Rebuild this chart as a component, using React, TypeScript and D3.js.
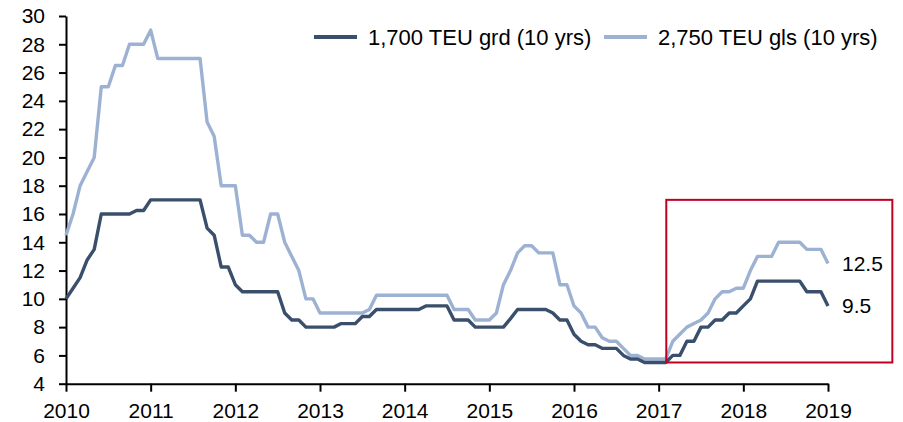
import React, { useEffect, useRef } from 'react';
import * as d3 from 'd3';

// monthly values, Jan 2010 .. Jan 2019
const startYear = 2010;

const grd1700 = [
  10, 10.75, 11.5, 12.75, 13.5, 16, 16, 16, 16, 16, 16.25, 16.25,
  17, 17, 17, 17, 17, 17, 17, 17, 15, 14.5, 12.25, 12.25,
  11, 10.5, 10.5, 10.5, 10.5, 10.5, 10.5, 9, 8.5, 8.5, 8, 8,
  8, 8, 8, 8.25, 8.25, 8.25, 8.75, 8.75, 9.25, 9.25, 9.25, 9.25,
  9.25, 9.25, 9.25, 9.5, 9.5, 9.5, 9.5, 8.5, 8.5, 8.5, 8, 8,
  8, 8, 8, 8.6, 9.25, 9.25, 9.25, 9.25, 9.25, 9, 8.5, 8.5,
  7.5, 7, 6.75, 6.75, 6.5, 6.5, 6.5, 6, 5.75, 5.75, 5.5, 5.5,
  5.5, 5.5, 6, 6, 7, 7, 8, 8, 8.5, 8.5, 9, 9,
  9.5, 10, 11.25, 11.25, 11.25, 11.25, 11.25, 11.25, 11.25, 10.5, 10.5, 10.5,
  9.5,
];

const gls2750 = [
  14.5, 16, 18, 19, 20, 25, 25, 26.5, 26.5, 28, 28, 28,
  29, 27, 27, 27, 27, 27, 27, 27, 22.5, 21.5, 18, 18,
  18, 14.5, 14.5, 14, 14, 16, 16, 14, 13, 12, 10, 10,
  9, 9, 9, 9, 9, 9, 9, 9.25, 10.25, 10.25, 10.25, 10.25,
  10.25, 10.25, 10.25, 10.25, 10.25, 10.25, 10.25, 9.25, 9.25, 9.25, 8.5, 8.5,
  8.5, 9, 11, 12, 13.25, 13.75, 13.75, 13.25, 13.25, 13.25, 11, 11,
  9.5, 9, 8, 8, 7.25, 7, 7, 6.5, 6, 6, 5.75, 5.75,
  5.75, 5.75, 7, 7.5, 8, 8.25, 8.5, 9, 10, 10.5, 10.5, 10.75,
  10.75, 12, 13, 13, 13, 14, 14, 14, 14, 13.5, 13.5, 13.5,
  12.5,
];

const seriesNames = ['1,700 TEU grd (10 yrs)', '2,750 TEU gls (10 yrs)'];
const yearTicks = [2010, 2011, 2012, 2013, 2014, 2015, 2016, 2017, 2018, 2019];
const valueTicks = [4, 6, 8, 10, 12, 14, 16, 18, 20, 22, 24, 26, 28, 30];

// highlighted period (data units)
const highlightX = [2017.09, 2019.76];
const highlightY = [5.5, 17];

const COLORS = ['#3a4f6b', '#9db2d3'];
const FONT = 'Liberation Sans, Arial, sans-serif';

const App = () => {
  const ref = useRef<SVGSVGElement>(null);

  useEffect(() => {
    const svg = d3.select(ref.current);
    svg.selectAll('*').remove();

    const x = d3.scaleLinear().domain([2010, 2019]).range([66, 828]);
    const y = d3.scaleLinear().domain([4, 30]).range([383.7, 16]);

    const line = d3
      .line<number>()
      .x((d, i) => x(startYear + i / 12))
      .y(d => y(d));

    // y axis
    const yAxis = d3
      .axisLeft(y)
      .tickValues(valueTicks)
      .tickSize(7)
      .tickSizeOuter(0)
      .tickPadding(14);
    const yg = svg.append('g').attr('transform', `translate(${x(2010)},0)`).call(yAxis);

    // x axis
    const xAxis = d3
      .axisBottom(x)
      .tickValues(yearTicks)
      .tickFormat(d3.format('d'))
      .tickSize(8)
      .tickSizeOuter(0)
      .tickPadding(11);
    const xg = svg.append('g').attr('transform', `translate(0,${y(4)})`).call(xAxis);

    [yg, xg].forEach(g => {
      g.select('.domain').attr('stroke', '#000').attr('stroke-width', 2);
      g.selectAll('.tick line').attr('stroke', '#000').attr('stroke-width', 2);
      g.selectAll('.tick text')
        .attr('fill', '#000')
        .style('font-family', FONT)
        .style('font-size', '21px');
    });

    // lines
    const data = [grd1700, gls2750];
    data.slice().reverse().forEach((s, k) => {
      const idx = data.length - 1 - k;
      svg
        .append('path')
        .datum(s)
        .attr('fill', 'none')
        .attr('stroke', COLORS[idx])
        .attr('stroke-width', 3.4)
        .attr('stroke-linejoin', 'round')
        .attr('d', line);
    });

    // highlight box
    svg
      .append('rect')
      .attr('x', x(highlightX[0]))
      .attr('y', y(highlightY[1]))
      .attr('width', x(highlightX[1]) - x(highlightX[0]))
      .attr('height', y(highlightY[0]) - y(highlightY[1]))
      .attr('fill', 'none')
      .attr('stroke', '#c00020')
      .attr('stroke-width', 2);

    // end labels
    data.forEach(s => {
      const last = s[s.length - 1];
      svg
        .append('text')
        .attr('x', x(2019) + 14)
        .attr('y', y(last))
        .attr('dy', '0.35em')
        .style('font-family', FONT)
        .style('font-size', '21px')
        .text(d3.format('.1f')(last));
    });

    // legend
    const legendX = [314, 604];
    seriesNames.forEach((name, i) => {
      const g = svg.append('g').attr('transform', `translate(${legendX[i]},37)`);
      g.append('line')
        .attr('x1', 0)
        .attr('x2', 43)
        .attr('stroke', COLORS[i])
        .attr('stroke-width', 4);
      g.append('text')
        .attr('x', 54)
        .attr('dy', '0.35em')
        .style('font-family', FONT)
        .style('font-size', '22px')
        .text(name);
    });
  }, []);

  return (
    <svg
      ref={ref}
      width={903}
      height={422}
      style={{ position: 'absolute', left: 0, top: 0, background: '#fff' }}
    />
  );
};

export default App;
